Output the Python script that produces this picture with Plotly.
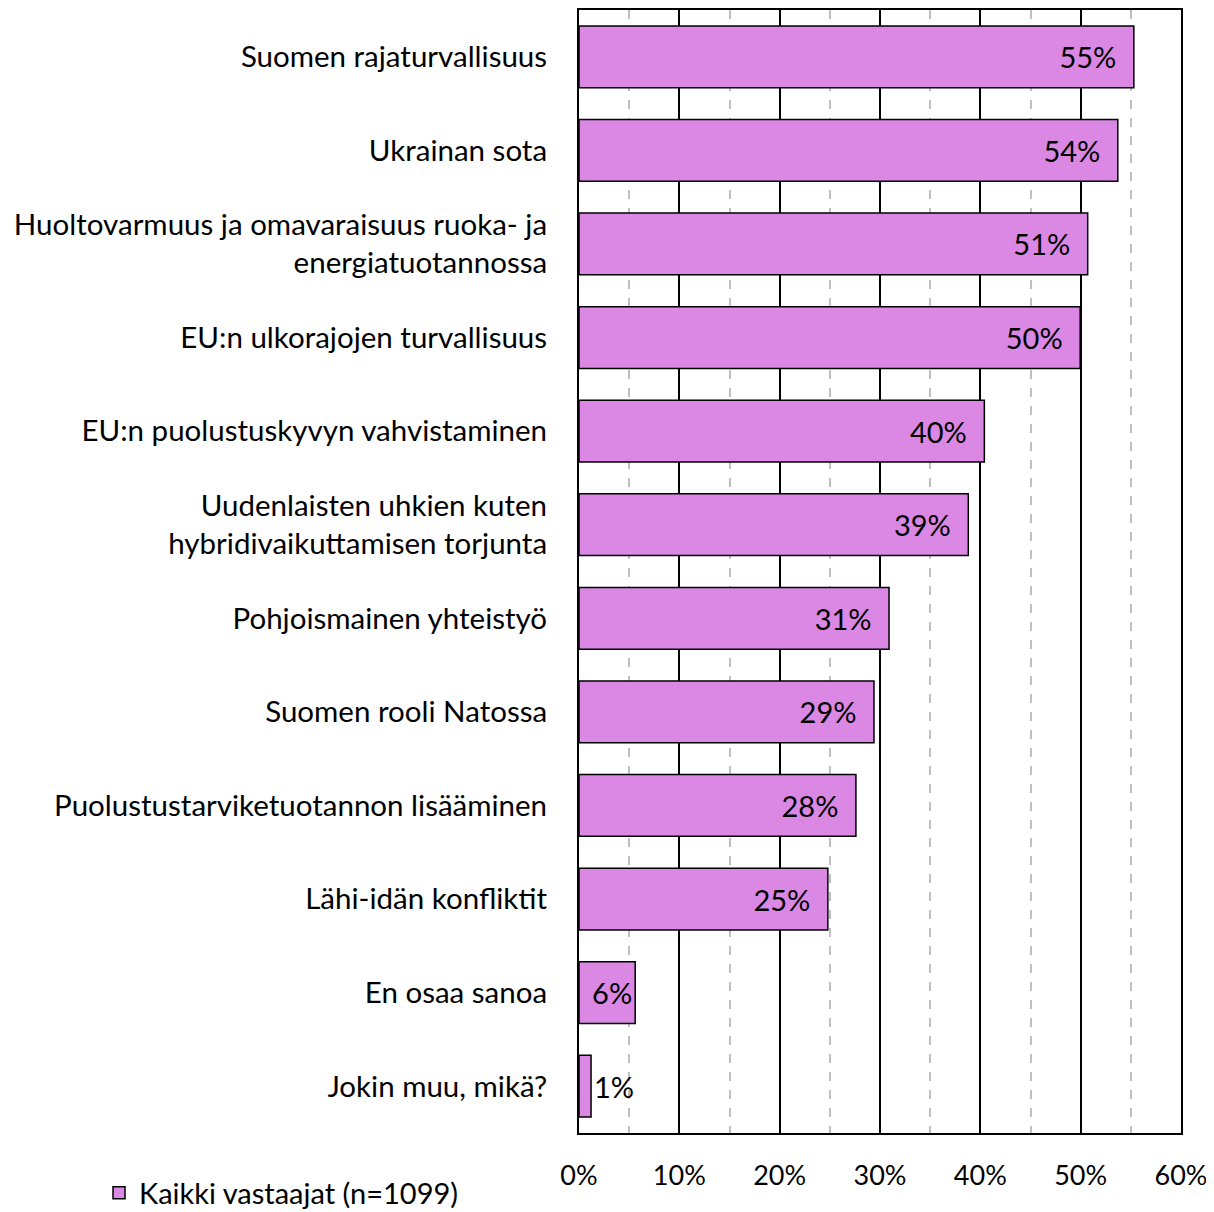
import plotly.graph_objects as go

categories = [
    "Suomen rajaturvallisuus",
    "Ukrainan sota",
    "Huoltovarmuus ja omavaraisuus ruoka- ja<br>energiatuotannossa",
    "EU:n ulkorajojen turvallisuus",
    "EU:n puolustuskyvyn vahvistaminen",
    "Uudenlaisten uhkien kuten<br>hybridivaikuttamisen torjunta",
    "Pohjoismainen yhteistyö",
    "Suomen rooli Natossa",
    "Puolustustarviketuotannon lisääminen",
    "Lähi-idän konfliktit",
    "En osaa sanoa",
    "Jokin muu, mikä?",
]
values = [55.3, 53.7, 50.7, 49.95, 40.4, 38.8, 30.9, 29.4, 27.6, 24.8, 5.6, 1.2]
series_name = "Kaikki vastaajat (n=1099)"
x_ticks = [0, 10, 20, 30, 40, 50, 60]
x_tick_labels = ["0%", "10%", "20%", "30%", "40%", "50%", "60%"]

FONT = "Lato"
FS = 29
n = len(values)
text_pos = ["inside"] * (n - 1) + ["outside"]
text_tpl = ["%{x:.0f}%\u2002"] * (n - 2) + ["%{x:.0f}%", "%{x:.0f}%"]

W, H = 1206, 1204

fig = go.Figure()
fig.add_trace(go.Bar(
    y=categories,
    x=values,
    orientation="h",
    name=series_name,
    marker=dict(color="#DA88E3", line=dict(color="black", width=1.5)),
    texttemplate=text_tpl,
    textposition=text_pos,
    insidetextanchor="end",
    textangle=0,
    textfont=dict(family=FONT, size=FS, color="black"),
    outsidetextfont=dict(family=FONT, size=FS, color="black"),
    cliponaxis=False,
    showlegend=True,
))

fig.update_layout(
    width=W, height=H,
    margin=dict(l=571, r=33, t=2, b=79, autoexpand=False),
    paper_bgcolor="white", plot_bgcolor="white",
    font=dict(family=FONT, size=FS, color="black"),
    bargap=0.34,
    uniformtext=dict(minsize=FS, mode="show"),
    legend=dict(
        orientation="h", xref="container", yref="container",
        x=91 / W, xanchor="left", y=(H - 1185) / H, yanchor="middle",
        font=dict(family=FONT, size=FS, color="black"),
        bgcolor="rgba(0,0,0,0)",
    ),
    xaxis=dict(
        range=[0, 60], tickmode="array", tickvals=x_ticks, ticktext=x_tick_labels,
        showgrid=True, gridcolor="black", gridwidth=1.5,
        minor=dict(dtick=5, tick0=0, showgrid=True, gridcolor="#BFBFBF",
                   griddash="dash", gridwidth=1.5),
        showline=True, linecolor="black", linewidth=2, mirror=True,
        zeroline=False, ticks="", ticklabelstandoff=18, automargin=False,
        tickfont=dict(family=FONT, size=27, color="black"),
    ),
    yaxis=dict(
        autorange="reversed", showgrid=False, ticks="",
        showline=True, linecolor="black", linewidth=2, mirror=True,
        ticklabelstandoff=24, automargin=False,
        tickfont=dict(family=FONT, size=29.5, color="black"),
    ),
)

fig.write_html("out.html")
